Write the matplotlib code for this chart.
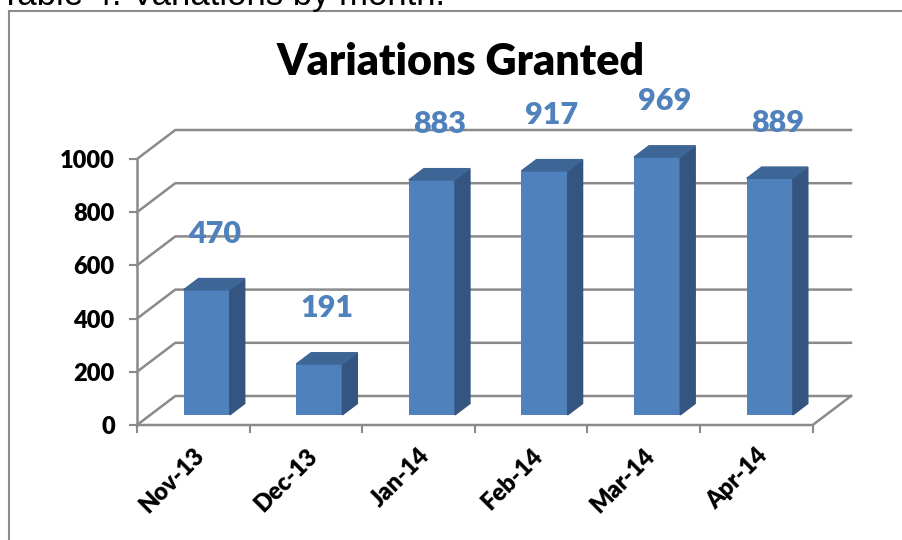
import matplotlib
matplotlib.use('Agg')
import matplotlib.pyplot as plt
from matplotlib.patches import Polygon, Rectangle

months = ['Nov-13', 'Dec-13', 'Jan-14', 'Feb-14', 'Mar-14', 'Apr-14']
granted = [470, 191, 883, 917, 969, 889]
yticks = [0, 200, 400, 600, 800, 1000]

# fake 3d: depth offset of the back wall in data units
DX, DY = 0.34, 109
f0, fd = 0.35, 0.39    # bar starts at 35% of depth, is 39% deep
w = 0.41
front = '#4F81BD'
side = '#34557F'
top = '#3D6595'
grid = '#8A8A8A'

plt.rcParams['font.family'] = ['Lato', 'DejaVu Sans']

fig = plt.figure(figsize=(9.03, 5.40), dpi=100)
fig.patches.append(Rectangle((9/903, -0.1), 1.2, 1 - 11/540 + 0.1, transform=fig.transFigure,
                             fill=False, edgecolor='#8C8C8C', lw=1.5))
fig.text(0.0, 1 - 5/540, 'Table 4: Variations by month.', fontsize=25, family='Liberation Sans',
         va='baseline', ha='left')

ax = fig.add_axes([137/903, 115/540, 714/903, 295/540])
ax.set_xlim(0, 6 + DX)
ax.set_ylim(0, 1000 + DY)
for s in ax.spines.values():
    s.set_visible(False)

n = len(months)
# walls
for v in yticks:
    ax.plot([0, DX, n + DX], [v, v + DY, v + DY], color=grid, lw=1.8, zorder=1, clip_on=False)
ax.plot([0, 0], [0, 1000], color=grid, lw=1.8, zorder=1, clip_on=False)
ax.plot([0, n, n + DX], [0, 0, DY], color=grid, lw=1.8, zorder=1, clip_on=False)

x0 = [i + 0.5 - w / 2 + f0 * DX for i in range(n)]
y0 = f0 * DY
ax.bar(x0, granted, width=w, bottom=y0, align='edge', color=front, zorder=3)
for xl, v in zip(x0, granted):
    xr = xl + w
    ax.add_patch(Polygon([(xr, y0), (xr + fd * DX, y0 + fd * DY), (xr + fd * DX, y0 + fd * DY + v),
                          (xr, y0 + v)], closed=True, color=side, zorder=3))
    ax.add_patch(Polygon([(xl, y0 + v), (xr, y0 + v), (xr + fd * DX, y0 + v + fd * DY),
                          (xl + fd * DX, y0 + v + fd * DY)], closed=True, color=top, zorder=3))
    ax.text(xl + w / 2 + fd * DX / 2, v + y0 + 210, str(v), ha='center', va='center',
            fontsize=22, fontweight='heavy', color=front, clip_on=False)

ax.set_yticks(yticks)
ax.set_yticklabels([str(t) for t in yticks], fontsize=17, fontweight='heavy')
ax.tick_params(axis='y', length=6, width=1.5, color=grid, pad=10)
ax.set_xticks(range(n + 1))
ax.set_xticklabels([])
ax.tick_params(axis='x', which='major', length=6, width=1.5, color=grid)
ax.set_xticks([i + 0.5 for i in range(n)], minor=True)
ax.set_xticklabels(months, minor=True, rotation=45, ha='right', rotation_mode='anchor',
                   fontsize=17, fontweight='heavy')
ax.tick_params(axis='x', which='minor', length=0, pad=14)

fig.text(461/903, 1 - 62/540, 'Variations Granted', fontsize=31, fontweight='heavy',
         ha='center', va='center')

fig.savefig('out.png', dpi=100)
